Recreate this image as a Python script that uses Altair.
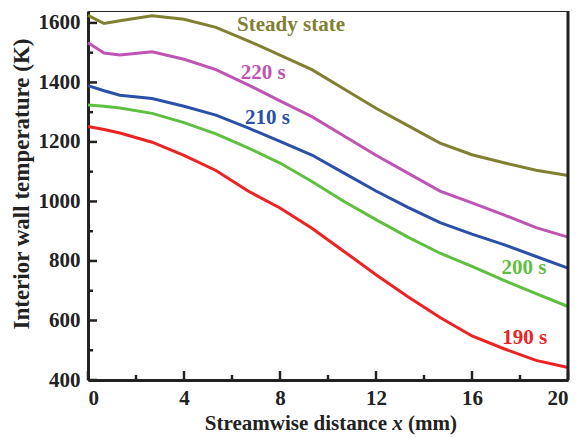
import altair as alt
import pandas as pd

x_mm = [0, 0.67, 1.33, 2.67, 4, 5.33, 6.67, 8, 9.33, 10.67, 12, 13.33, 14.67, 16, 17.33, 18.67, 20]
steady = [1625, 1598, 1607, 1624, 1612, 1585, 1540, 1492, 1443, 1378, 1313, 1255, 1196, 1157, 1130, 1105, 1087]
t220 = [1533, 1499, 1492, 1503, 1478, 1443, 1392, 1338, 1285, 1220, 1155, 1095, 1035, 995, 955, 912, 880]
t210 = [1389, 1372, 1357, 1346, 1320, 1290, 1247, 1202, 1156, 1095, 1035, 980, 929, 890, 855, 815, 776]
t200 = [1324, 1320, 1314, 1296, 1265, 1227, 1180, 1129, 1067, 1000, 939, 880, 826, 782, 735, 690, 647]
t190 = [1252, 1242, 1230, 1199, 1155, 1104, 1035, 978, 910, 832, 754, 680, 610, 548, 505, 466, 442]

series_names = ["Steady state", "220 s", "210 s", "200 s", "190 s"]
series_vals = [steady, t220, t210, t200, t190]
colors = ["#808033", "#c054b4", "#2b50a8", "#5fbf3f", "#ee2222"]

label_x = [8.46, 7.3, 7.48, 18.17, 18.2]
label_y = [1594, 1430, 1280, 776, 540]

x_major = [0, 4, 8, 12, 16, 20]
x_minor = [2, 6, 10, 14, 18]
y_major = [400, 600, 800, 1000, 1200, 1400, 1600]
y_minor = [500, 700, 900, 1100, 1300, 1500]

rows = []
for name, vals in zip(series_names, series_vals):
    for xv, tv in zip(x_mm, vals):
        rows.append({"series": name, "x": xv, "T": tv})
df = pd.DataFrame(rows)
lab = pd.DataFrame({"series": series_names, "x": label_x, "T": label_y})

FONT = "Liberation Serif"
W, H = 480, 369
INK = "#222"

xs = alt.Scale(domain=[0, 20], nice=False, zero=False)
ys = alt.Scale(domain=[400, 1640], nice=False, zero=False)
cs = alt.Scale(domain=series_names, range=colors)

lines = alt.Chart(df).mark_line(strokeWidth=3).encode(
    x=alt.X("x:Q", scale=xs, axis=alt.Axis(values=x_major, title=None, ticks=False, grid=False,
                                             format="d", labelFont=FONT, labelFontSize=21,
                                             labelFontWeight="bold", labelColor=INK, domainColor=INK,
                                             domainWidth=3, labelPadding=7)),
    y=alt.Y("T:Q", scale=ys, axis=alt.Axis(values=y_major, title="Interior wall temperature (K)",
                                             format="d", ticks=False, grid=False, labelFont=FONT,
                                             labelFontSize=21, labelFontWeight="bold", labelColor=INK,
                                             domainColor=INK, domainWidth=3, labelPadding=8,
                                             titleFont=FONT, titleFontSize=23, titleFontWeight="bold",
                                             titleColor=INK, titleX=-67, titleY=172.5,
                                             titleAngle=270, titleAlign="center",
                                             titleBaseline="middle")),
    color=alt.Color("series:N", scale=cs, legend=None),
    detail="series:N",
)

labels = alt.Chart(lab).mark_text(font=FONT, fontSize=21, fontWeight="bold", align="center",
                                  baseline="middle").encode(
    x=alt.X("x:Q", scale=xs), y=alt.Y("T:Q", scale=ys), text="series:N",
    color=alt.Color("series:N", scale=cs, legend=None),
)

ymaj = alt.Chart(pd.DataFrame({"v": y_major})).mark_rule(strokeWidth=2.5, color=INK).encode(
    y=alt.Y("v:Q", scale=ys), x=alt.value(0), x2=alt.value(9))
ymin = alt.Chart(pd.DataFrame({"v": y_minor})).mark_rule(strokeWidth=2.5, color=INK).encode(
    y=alt.Y("v:Q", scale=ys), x=alt.value(0), x2=alt.value(5))
xmaj = alt.Chart(pd.DataFrame({"v": x_major})).mark_rule(strokeWidth=2.5, color=INK).encode(
    x=alt.X("v:Q", scale=xs), y=alt.value(H), y2=alt.value(H - 9))
xmin = alt.Chart(pd.DataFrame({"v": x_minor})).mark_rule(strokeWidth=2.5, color=INK).encode(
    x=alt.X("v:Q", scale=xs), y=alt.value(H), y2=alt.value(H - 5))
right = alt.Chart(pd.DataFrame({"v": [0]})).mark_rule(strokeWidth=3, color=INK).encode(
    x=alt.value(W), y=alt.value(0), y2=alt.value(H))

one = pd.DataFrame({"t": [0]})
xt1 = alt.Chart(one).mark_text(font=FONT, fontSize=21, fontWeight="bold", align="right",
                               baseline="alphabetic", color=INK).encode(
    x=alt.value(299), y=alt.value(419), text=alt.value("Streamwise distance"))
xt2 = alt.Chart(one).mark_text(font=FONT, fontSize=21, fontWeight="bold", fontStyle="italic",
                               align="center", baseline="alphabetic", color=INK).encode(
    x=alt.value(309.5), y=alt.value(419), text=alt.value("x"))
xt3 = alt.Chart(one).mark_text(font=FONT, fontSize=21, fontWeight="bold", align="left",
                               baseline="alphabetic", color=INK).encode(
    x=alt.value(320), y=alt.value(419), text=alt.value("(mm)"))

chart = alt.layer(lines, labels, ymaj, ymin, xmaj, xmin, right, xt1, xt2, xt3).properties(
    width=W, height=H,
    autosize=alt.AutoSizeParams(type="none"),
    padding={"left": 80, "top": 3, "right": 4, "bottom": 57},
).configure_view(stroke=INK, strokeWidth=1)

chart.save("out.html", embed_options={"renderer": "svg", "actions": False})
